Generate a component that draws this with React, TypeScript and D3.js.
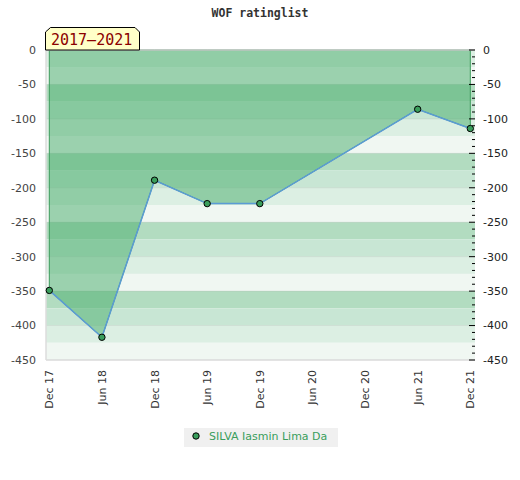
import React from "react";
import * as d3 from "d3";

const periods = ["Dec 17", "Jun 18", "Dec 18", "Jun 19", "Dec 19", "Jun 20", "Dec 20", "Jun 21", "Dec 21"];
const ratingIdx = [0, 1, 2, 3, 4, 7, 8];
const ratingValues = [-349, -417, -189, -223, -223, -86, -114];
const yTickValues = [0, -50, -100, -150, -200, -250, -300, -350, -400, -450];
const seriesName = "SILVA Iasmin Lima Da";
const rangeLabel = "2017\u20132021";
const title = "WOF ratinglist";

const stripeColors = ["#b2dcc0", "#c8e6d4", "#dcefe3", "#f0f7f2"];

export default function App() {
  const W = 520, H = 480;
  const plotL = 46, plotR = 475, plotT = 50, plotB = 360;
  const x = d3.scaleLinear().domain([0, periods.length - 1]).range([49.3, 470.3]);
  const y = d3.scaleLinear().domain([0, -450]).range([plotT, plotB]);

  const pts = ratingIdx.map((i, k) => ({ i, v: ratingValues[k] }));

  const area = d3.area<{ i: number; v: number }>()
    .x(d => x(d.i))
    .y0(() => y(0))
    .y1(d => y(d.v));
  const line = d3.line<{ i: number; v: number }>()
    .x(d => x(d.i))
    .y(d => y(d.v));

  const bands: { y0: number; y1: number; c: string }[] = [];
  for (let k = 0; k < 18; k++) {
    const v0 = -k * 25, v1 = -(k + 1) * 25;
    bands.push({ y0: y(v0), y1: y(v1), c: stripeColors[(k + 2) % 4] });
  }
  const minorTicks = d3.range(0, -451, -10);

  const font = "'DejaVu Sans', sans-serif";
  const mono = "'DejaVu Sans Mono', monospace";

  return (
    <div style={{ position: "absolute", left: 0, top: 0 }}>
      <svg width={W} height={H} style={{ display: "block" }}>
        <rect x={0} y={0} width={W} height={H} fill="#fff" />
        <text x={260} y={17} textAnchor="middle" fontFamily={mono} fontSize={11.5} fontWeight="bold" fill="#333">{title}</text>

        {bands.map((b, k) => (
          <rect key={k} x={plotL} y={b.y0} width={plotR - plotL} height={b.y1 - b.y0} fill={b.c} />
        ))}
        {yTickValues.map(v => (
          <line key={v} x1={plotL} x2={plotR} y1={y(v)} y2={y(v)} stroke="#000" strokeOpacity={0.07} />
        ))}

        <path d={area(pts) || ""} fill="#45ab69" fillOpacity={0.5} stroke="#3d9b5c" strokeWidth={1} />
        <path d={line(pts) || ""} fill="none" stroke="#5b9bd5" strokeWidth={1.5} />

        <line x1={plotL} x2={plotR} y1={plotT} y2={plotT} stroke="#ccc" strokeWidth={1.5} />
        <line x1={plotL} x2={plotR} y1={plotB} y2={plotB} stroke="#ddd" strokeWidth={1.5} />
        <line x1={plotL} x2={plotL} y1={plotT} y2={plotB} stroke="#ddd" strokeWidth={1.5} />

        {pts.map((d, k) => (
          <circle key={k} cx={x(d.i)} cy={y(d.v)} r={3.2} fill="#3a9e5c" stroke="#000" strokeWidth={1} />
        ))}

        {minorTicks.map(v => {
          const major = v % 50 === 0;
          return (
            <line key={v} x1={major ? plotR - 6 : plotR - 3} x2={plotR} y1={y(v)} y2={y(v)} stroke="#000" strokeWidth={1} />
          );
        })}

        {yTickValues.map(v => (
          <text key={"l" + v} x={36} y={y(v)} dy="0.35em" textAnchor="end" fontFamily={font} fontSize={11} fill="#444">{v}</text>
        ))}
        {yTickValues.map(v => (
          <text key={"r" + v} x={483} y={y(v)} dy="0.35em" textAnchor="start" fontFamily={font} fontSize={11} fill="#222">{v}</text>
        ))}

        {periods.map((p, i) => (
          <text key={p} transform={`translate(${x(i) + 4},370) rotate(-90)`} textAnchor="end" fontFamily={font} fontSize={11} fill="#333">{p}</text>
        ))}

        <path d={`M45.5,50 L45.5,32 L50.5,27.5 L135,27.5 L139.5,32 L139.5,50 Z`} fill="#ffffc8" stroke="#000" strokeWidth={1} />
        <text x={51} y={45} fontFamily={mono} fontSize={15} fill="#8b0000">{rangeLabel}</text>

        <rect x={184} y={428} width={154} height={19} fill="#f0f0f0" />
        <circle cx={196} cy={436} r={3.2} fill="#3a9e5c" stroke="#000" strokeWidth={1} />
        <text x={209} y={440} fontFamily={font} fontSize={11} fill="#3a9e5c">{seriesName}</text>
      </svg>
    </div>
  );
}
